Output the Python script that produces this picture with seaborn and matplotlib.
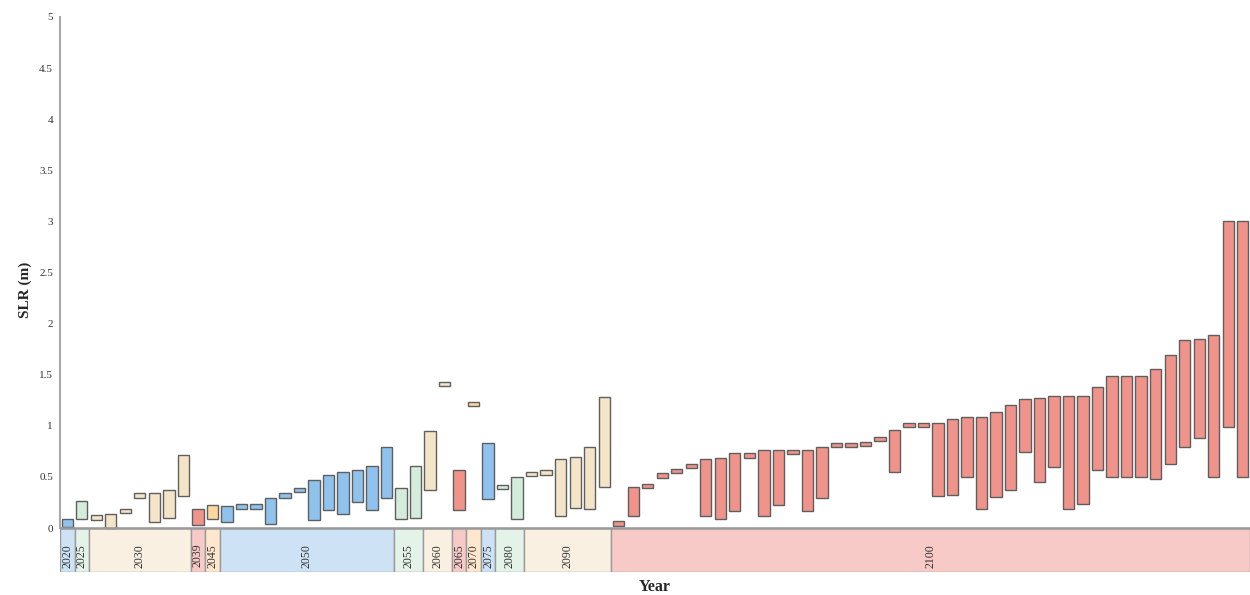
import numpy as np
import pandas as pd
import matplotlib
matplotlib.use("Agg")
import matplotlib.pyplot as plt
from matplotlib.patches import Rectangle
import seaborn as sns

# Projection horizons and how many projections fall under each
horizons = ["2020", "2025", "2030", "2039", "2045", "2050", "2055", "2060",
            "2065", "2070", "2075", "2080", "2090", "2100"]
counts = [1, 1, 7, 1, 1, 12, 2, 2, 1, 1, 1, 2, 6, 44]

# Lower and upper bound of each projected sea-level-rise range (m)
slr_low = [
    0.01,
    0.09,
    0.08, 0.00, 0.15, 0.29, 0.06, 0.10, 0.31,
    0.03,
    0.09,
    0.06, 0.19, 0.19, 0.04, 0.29, 0.35, 0.08, 0.18, 0.14, 0.25, 0.18, 0.29,
    0.09, 0.10,
    0.37, 1.39,
    0.18,
    1.19,
    0.28,
    0.385, 0.09,
    0.51, 0.52, 0.12, 0.20, 0.19, 0.40,
    0.02, 0.12, 0.39, 0.49, 0.54, 0.59, 0.12, 0.09, 0.17, 0.69,
    0.12, 0.23, 0.72, 0.17, 0.29, 0.79, 0.79, 0.80, 0.855, 0.545,
    0.99, 0.99, 0.31, 0.32, 0.50, 0.19, 0.30, 0.37, 0.74, 0.45,
    0.60, 0.19, 0.24, 0.565, 0.50, 0.50, 0.50, 0.48, 0.63, 0.79,
    0.88, 0.50, 0.99, 0.50,
]
slr_high = [
    0.09,
    0.26,
    0.13, 0.14, 0.19, 0.34, 0.34, 0.37, 0.71,
    0.19,
    0.23,
    0.22, 0.235, 0.235, 0.29, 0.34, 0.39, 0.47, 0.52, 0.545, 0.565, 0.61, 0.79,
    0.39, 0.61,
    0.95, 1.43,
    0.565,
    1.23,
    0.83,
    0.42, 0.50,
    0.55, 0.565, 0.68, 0.70, 0.79, 1.28,
    0.07, 0.40, 0.43, 0.535, 0.58, 0.63, 0.68, 0.69, 0.73, 0.73,
    0.76, 0.76, 0.76, 0.76, 0.79, 0.83, 0.83, 0.84, 0.89, 0.96,
    1.03, 1.03, 1.03, 1.07, 1.09, 1.09, 1.14, 1.20, 1.26, 1.27,
    1.29, 1.29, 1.29, 1.38, 1.49, 1.49, 1.49, 1.56, 1.69, 1.84,
    1.85, 1.89, 3.00, 3.00,
]
y_ticks = [0, 0.5, 1, 1.5, 2, 2.5, 3, 3.5, 4, 4.5, 5]
y_tick_labels = ["0", "0.5", "1", "1.5", "2", "2.5", "3", "3.5", "4", "4.5", "5"]

# Colour cycle shared by the bars and the horizon strip
bar_colors = ["#8fc3ee", "#d3ecdb", "#f5e5c8", "#f0938a", "#fdd79f"]
strip_colors = ["#cde2f5", "#e4f3e8", "#f9f0e2", "#f8cac7", "#fee7cd"]

group_idx = np.repeat(np.arange(len(horizons)), counts)
df = pd.DataFrame({
    "slot": np.arange(len(slr_low)),
    "low": slr_low,
    "span": np.array(slr_high) - np.array(slr_low),
    "group": group_idx,
})

sns.set_theme(style="white")
plt.rcParams["font.family"] = ["Liberation Serif", "DejaVu Serif"]

fig = plt.figure(figsize=(12.5, 5.95), dpi=100)
ax = fig.add_axes([0.048, 23 / 595, 0.952, 555 / 595])

strip_h = 0.43
sns.barplot(data=df, x="slot", y="span", bottom=df["low"].values,
            color=bar_colors[0], errorbar=None, width=0.78,
            edgecolor="#5f5f5f", linewidth=1.0, ax=ax)
for patch, g in zip(ax.patches, df["group"]):
    patch.set_facecolor(bar_colors[g % len(bar_colors)])

# Horizon strip under the zero line
start = 0
for i, (lab, n) in enumerate(zip(horizons, counts)):
    ax.add_patch(Rectangle((start - 0.5, -strip_h), n, strip_h,
                           facecolor=strip_colors[i % len(strip_colors)],
                           edgecolor="#9a9a9a", linewidth=1.0, zorder=0))
    ax.text(start - 0.5 + n / 2, -0.27, lab, rotation=90,
            ha="center", va="center", fontsize=8.5, color="#333333")
    start += n
ax.axhline(0, color="#9a9a9a", linewidth=1.8, zorder=3)

ax.set_xlim(-0.5, len(slr_low) - 0.5)
ax.set_ylim(-strip_h, 5)
ax.set_xticks([])
ax.set_yticks(y_ticks)
ax.set_yticklabels(y_tick_labels, fontsize=8, color="#333333")
ax.tick_params(axis="y", length=0, pad=5)
ax.set_xlabel("")
ax.set_ylabel("")
for side in ["top", "right", "bottom"]:
    ax.spines[side].set_visible(False)
ax.spines["left"].set_bounds(0, 5)
ax.spines["left"].set_color("#a8a8a8")
ax.spines["left"].set_linewidth(1.5)

fig.text(0.02, (595 - 290) / 595, "SLR (m)", rotation=90, ha="center",
         va="center", fontsize=11, fontweight="bold")
fig.text(0.524, 4 / 595, "Year", ha="center", va="baseline",
         fontsize=11.5, fontweight="bold")

fig.savefig("out.png", dpi=100)
